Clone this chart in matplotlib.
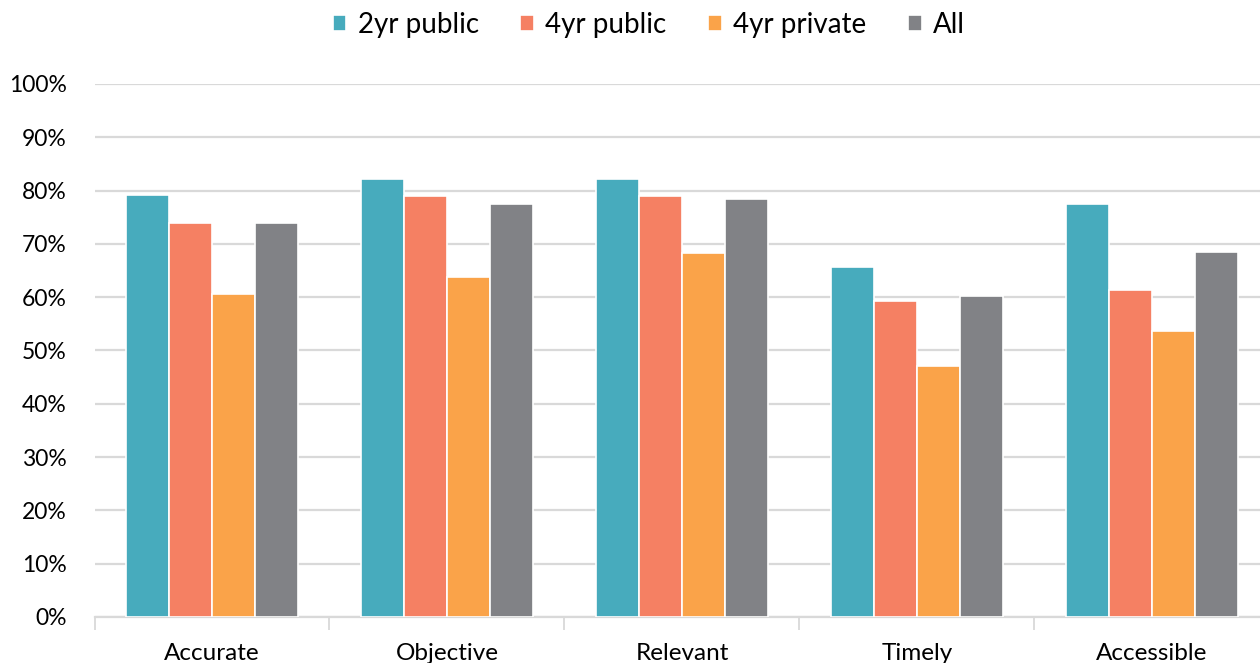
import matplotlib.pyplot as plt
import numpy as np
from matplotlib.ticker import PercentFormatter, FixedLocator, NullFormatter

categories = ["Accurate", "Objective", "Relevant", "Timely", "Accessible"]
series_names = ["2yr public", "4yr public", "4yr private", "All"]
two_yr_public = [79.2, 82.2, 82.2, 65.7, 77.5]
four_yr_public = [74.0, 79.0, 79.0, 59.2, 61.3]
four_yr_private = [60.5, 63.7, 68.2, 47.0, 53.7]
all_inst = [74.0, 77.5, 78.5, 60.2, 68.5]
colors = ["#47ABBD", "#F58063", "#FAA349", "#818286"]

plt.rcParams['font.family'] = ['Lato', 'DejaVu Sans']

fig = plt.figure(figsize=(12.6, 6.63), dpi=100)
ax = fig.add_axes([0.075, 0.0694, 0.9325, 0.804])

x = np.arange(len(categories))
w = 0.183
series = [two_yr_public, four_yr_public, four_yr_private, all_inst]
for i, (vals, name, c) in enumerate(zip(series, series_names, colors)):
    ax.bar(x + (i - 1.5) * w, vals, w, color=c, edgecolor="white",
           linewidth=1.2, label=name, zorder=3)

ax.set_xlim(-0.5, len(categories) - 0.5)
ax.set_ylim(0, 100)
ax.set_yticks(np.arange(0, 101, 10))
ax.yaxis.set_major_formatter(PercentFormatter(decimals=0))
ax.grid(axis="y", color="#d9d9d9", linewidth=1.6, zorder=0)

# category labels centred, tick marks on the boundaries
ax.set_xticks(x)
ax.set_xticklabels(categories)
ax.xaxis.set_minor_locator(FixedLocator(np.arange(-0.5, len(categories), 1)))
ax.xaxis.set_minor_formatter(NullFormatter())
ax.tick_params(axis="x", which="major", length=0, pad=19, labelsize=17.5)
ax.tick_params(axis="x", which="minor", length=9, width=1.3, color="#d9d9d9")
ax.tick_params(axis="y", length=0, pad=20, labelsize=16.5)

for s in ["top", "right", "left"]:
    ax.spines[s].set_visible(False)
ax.spines["bottom"].set_color("#d9d9d9")
ax.spines["bottom"].set_linewidth(1.6)

leg = fig.legend(loc="center", bbox_to_anchor=(0.515, 0.962), ncol=4,
                 frameon=False, fontsize=20, handlelength=0.5, handleheight=0.5,
                 handletextpad=0.4, columnspacing=1.5)

fig.savefig("out.png", dpi=100)
